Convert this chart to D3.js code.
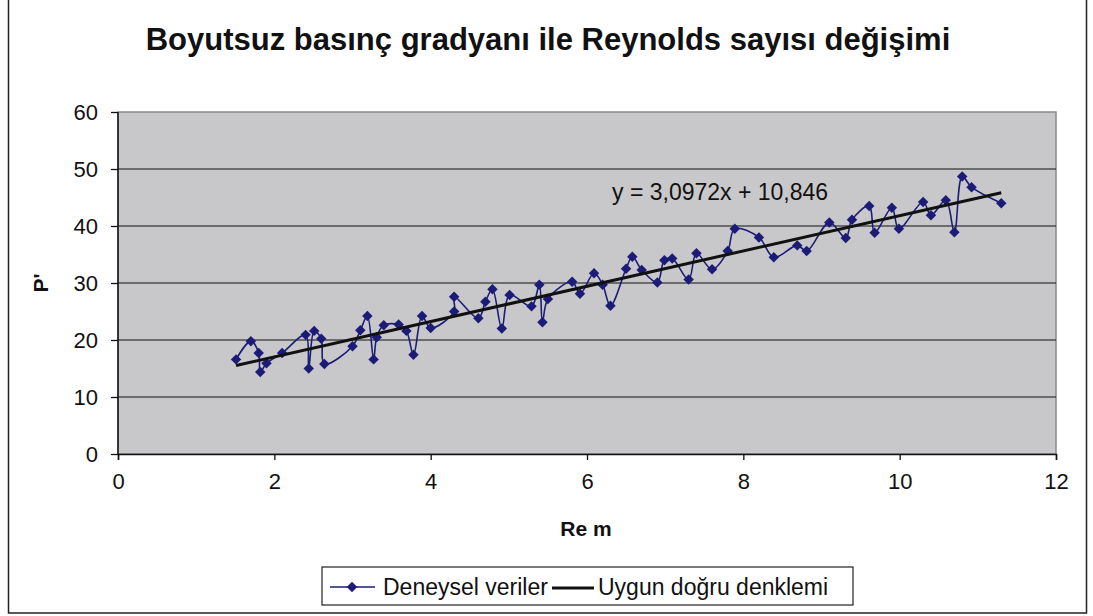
<!DOCTYPE html>
<html>
<head>
<meta charset="utf-8">
<script src="https://cdn.jsdelivr.net/npm/d3@7"></script>
<style>
  body { margin:0; background:#fff; }
  text { font-family: "Liberation Sans", Arial, sans-serif; fill:#111; }
</style>
</head>
<body>
<div id="chart"></div>
<script>
var w = 1093, h = 616;

// measured values (Re m vs P')
var reM = [1.51,1.70,1.80,1.82,1.90,2.10,2.40,2.44,2.51,2.60,2.64,3.00,3.10,3.19,3.27,3.31,3.40,3.59,3.69,3.78,
  3.89,4.00,4.30,4.30,4.61,4.70,4.79,4.91,5.01,5.29,5.39,5.43,5.50,5.81,5.91,6.09,6.20,6.30,6.50,6.58,
  6.70,6.90,6.99,7.09,7.30,7.40,7.60,7.80,7.89,8.20,8.39,8.69,8.81,9.10,9.31,9.39,9.61,9.68,9.90,9.99,
  10.30,10.40,10.59,10.70,10.80,10.92,11.30];
var pPrime = [16.6,19.8,17.7,14.4,15.9,17.7,20.9,15.0,21.6,20.2,15.8,18.9,21.7,24.2,16.6,20.5,22.6,22.7,21.6,17.4,
  24.2,22.1,25.0,27.6,23.8,26.7,28.9,22.0,27.9,25.9,29.7,23.1,27.2,30.2,28.1,31.7,29.7,26.0,32.5,34.6,
  32.3,30.1,34.0,34.3,30.6,35.2,32.4,35.6,39.5,38.0,34.5,36.6,35.6,40.6,37.9,41.1,43.5,38.8,43.2,39.5,
  44.2,41.9,44.5,38.9,48.7,46.8,44.0];

// linear fit
var slope = 3.0972, intercept = 10.846;
var xTicks = [0,2,4,6,8,10,12];
var yTicks = [0,10,20,30,40,50,60];
var title = "Boyutsuz basınç gradyanı ile Reynolds sayısı değişimi";
var eqText = "y = 3,0972x + 10,846";
var legendNames = ["Deneysel veriler", "Uygun doğru denklemi"];

var seriesC = "#1c1c78";

var svg = d3.select("#chart").append("svg")
  .attr("width", w).attr("height", h);

// outer frame
svg.append("rect").attr("x", 8.5).attr("y", -2).attr("width", 1078).attr("height", 615)
  .style("fill", "none").style("stroke", "#222").style("stroke-width", 1.5);

var pLeft = 118, pTop = 112, pRight = 1056, pBottom = 454;

var x = d3.scaleLinear().domain([0,12]).range([pLeft, pRight]);
var y = d3.scaleLinear().domain([0,60]).range([pBottom, pTop]);

// plot area
svg.append("rect").attr("x", pLeft).attr("y", pTop).attr("width", pRight-pLeft).attr("height", pBottom-pTop)
  .style("fill", "#c8c8ca").style("stroke", "#8a8a8a").style("stroke-width", 1.5);

// gridlines
svg.selectAll(".grid").data(yTicks.filter(function(d){return d>0 && d<60;}))
  .enter().append("path")
  .attr("d", function(d){ return "M"+pLeft+","+y(d)+" H"+pRight; })
  .style("stroke", "#111").style("stroke-width", 1.2);

// axes
var yAxis = svg.append("g").attr("transform", "translate("+pLeft+",0)")
  .call(d3.axisLeft(y).tickValues(yTicks).tickSize(7).tickPadding(13).tickFormat(d3.format("d")));
var xAxis = svg.append("g").attr("transform", "translate(0,"+pBottom+")")
  .call(d3.axisBottom(x).tickValues(xTicks).tickSize(6).tickPadding(13).tickFormat(d3.format("d")));
[xAxis, yAxis].forEach(function(a) {
  a.select(".domain").style("stroke", "#111").style("stroke-width", 1.5);
  a.selectAll(".tick line").style("stroke", "#111").style("stroke-width", 1.3);
  a.selectAll("text").style("font-size", "22px").style("font-family", "Liberation Sans, Arial, sans-serif").style("fill", "#111");
});
yAxis.select(".domain").remove();
svg.append("path").attr("d", "M"+pLeft+","+pTop+" V"+pBottom).style("stroke", "#111").style("stroke-width", 1.5);

// data series
var pts = reM.map(function(d,i){ return [d, pPrime[i]]; });
var line = d3.line()
  .x(function(d){ return x(d[0]); })
  .y(function(d){ return y(d[1]); })
  .curve(d3.curveCatmullRom.alpha(0.5));
svg.append("path").datum(pts).attr("d", line)
  .style("fill", "none").style("stroke", seriesC).style("stroke-width", 1.6);

var diamond = d3.symbol().type(d3.symbolDiamond2).size(70);
svg.selectAll(".pt").data(pts).enter().append("path")
  .attr("transform", function(d){ return "translate("+x(d[0])+","+y(d[1])+")"; })
  .attr("d", diamond)
  .style("fill", seriesC);

// trend line
var xMin = d3.min(reM), xMax = d3.max(reM);
svg.append("path")
  .attr("d", "M"+x(xMin)+","+y(slope*xMin+intercept)+" L"+x(xMax)+","+y(slope*xMax+intercept))
  .style("stroke", "#111").style("stroke-width", 3);

svg.append("text").attr("x", 612).attr("y", 200).text(eqText)
  .style("font-size", "23px");

// titles
svg.append("text").attr("x", 548).attr("y", 50).attr("text-anchor", "middle")
  .text(title).style("font-size", "31px").style("font-weight", "bold");
svg.append("text").attr("x", 586).attr("y", 536).attr("text-anchor", "middle")
  .text("Re m").style("font-size", "21px").style("font-weight", "bold");
svg.append("text").attr("transform", "translate(48,283) rotate(-90)").attr("text-anchor", "middle")
  .text("P'").style("font-size", "21px").style("font-weight", "bold");

// legend
var lg = svg.append("g");
lg.append("rect").attr("x", 322).attr("y", 567).attr("width", 531).attr("height", 38)
  .style("fill", "#fff").style("stroke", "#222").style("stroke-width", 1.2);
lg.append("path").attr("d", "M330,587 H375").style("stroke", seriesC).style("stroke-width", 1.6);
lg.append("path").attr("transform", "translate(352,587)").attr("d", diamond).style("fill", seriesC);
lg.append("text").attr("x", 383).attr("y", 595).text(legendNames[0]).style("font-size", "23px");
lg.append("path").attr("d", "M552,588 H594").style("stroke", "#111").style("stroke-width", 3);
lg.append("text").attr("x", 598).attr("y", 595).text(legendNames[1]).style("font-size", "23px");
</script>
</body>
</html>
